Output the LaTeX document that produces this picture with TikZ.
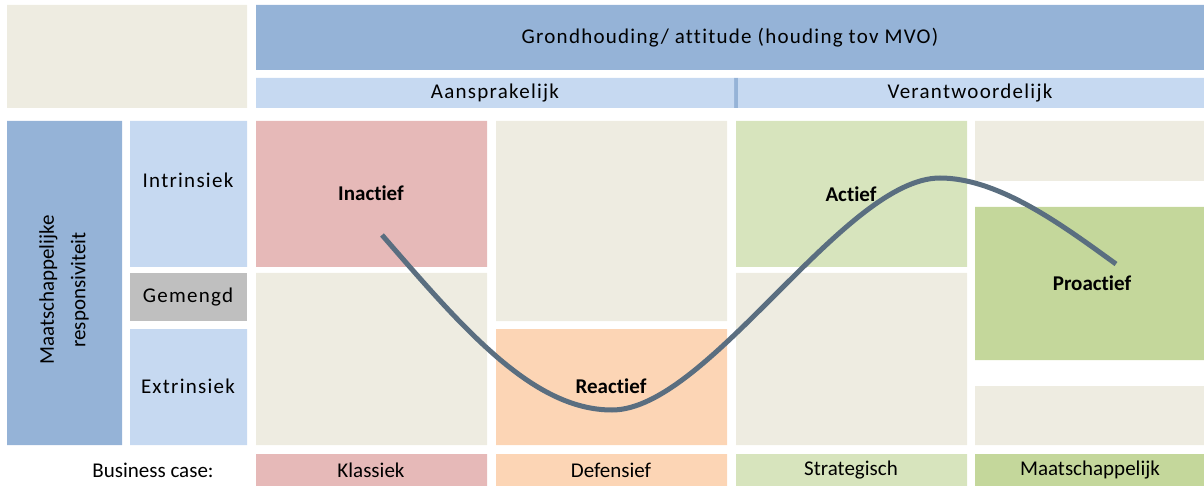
\documentclass[tikz,border=0pt]{standalone}
\usepackage{fontspec}
\setmainfont{Carlito}[Ligatures=NoCommon]
\newfontfamily\spaced[LetterSpace=6,Ligatures=NoCommon]{Carlito}
\definecolor{beige}{HTML}{EEECE1}
\definecolor{dblue}{HTML}{95B3D7}
\definecolor{lblue}{HTML}{C6D9F1}
\definecolor{grey}{HTML}{BFBFBF}
\definecolor{pink}{HTML}{E6B9B8}
\definecolor{peach}{HTML}{FCD5B5}
\definecolor{lgreen}{HTML}{D7E4BD}
\definecolor{dgreen}{HTML}{C4D79B}
\definecolor{curve}{HTML}{5A6E80}
\begin{document}
\begin{tikzpicture}[x=0.5pt,y=-0.5pt]
		\tikzset{
			p/.style={font=\fontsize{10.5}{12.6}\selectfont},
			l/.style={font=\spaced\fontsize{10.5}{12.6}\selectfont},
			b/.style={font=\bfseries\fontsize{10.5}{12.6}\selectfont},
			w/.style={draw=curve,line width=2.5pt},
		}
		\useasboundingbox (0,0) rectangle (1204,486);
		\fill[beige] (7,5) rectangle (247,108) (256,273) rectangle (487,445) (496,121) rectangle (727,321) (736,273) rectangle (967,445) (975,121) rectangle (1204,181) (975,386) rectangle (1204,445);
		\fill[dblue] (256,5) rectangle (1204,70) (7,121) rectangle (122,445) (734,78) rectangle (738,108);
		\fill[lblue] (256,78) rectangle (734,108) (738,78) rectangle (1204,108) (130,121) rectangle (247,267) (130,329) rectangle (247,445);
		\fill[grey] (130,273) rectangle (247,321);
		\fill[pink] (256,121) rectangle (487,267) (256,454) rectangle (487,486);
		\fill[peach] (496,329) rectangle (727,445) (496,454) rectangle (727,486);
		\fill[lgreen] (736,121) rectangle (967,267) (736,454) rectangle (967,486);
		\fill[dgreen] (975,207) rectangle (1204,360) (975,454) rectangle (1204,486);
		\node[l] (h) at (730,38) {Grondhouding/ attitude (houding tov MVO)};
		\node[l] (a1) at (495,93) {Aansprakelijk};
		\node[l] (a2) at (970,93) {Verantwoordelijk};
		\node[p,rotate=90,align=center,font=\fontsize{10.5}{15.8}\selectfont] (m) at (64,290) {Maatschappelijke\\responsiviteit};
		\node[l] (r1) at (188,180) {Intrinsiek};
		\node[l] (r2) at (188,297) {Gemengd};
		\node[l] (r3) at (188,386) {Extrinsiek};
		\node[b] (s1) at (371,193) {Inactief};
		\node[b] (s2) at (611,386) {Reactief};
		\node[b] (s3) at (851,194) {Actief};
		\node[b] (s4) at (1092,283) {Proactief};
		\node[p] (b0) at (153,470) {Business case:};
		\node[p] (b1) at (371,470) {Klassiek};
		\node[p] (b2) at (611,470) {Defensief};
		\node[p] (b3) at (851,470) {Strategisch};
		\node[p] (b4) at (1090,470) {Maatschappelijk};
		\coordinate (c0) at (382,235);
		\coordinate (c1) at (612,410);
		\coordinate (c2) at (940,178);
		\coordinate (c3) at (1116,264);
		\draw[w] (c0) .. controls (462,327) and (532,410) .. (c1) .. controls (708,410) and (844,178) .. (c2) .. controls (1000,178) and (1066,228) .. (c3);
	\end{tikzpicture}
\end{document}
